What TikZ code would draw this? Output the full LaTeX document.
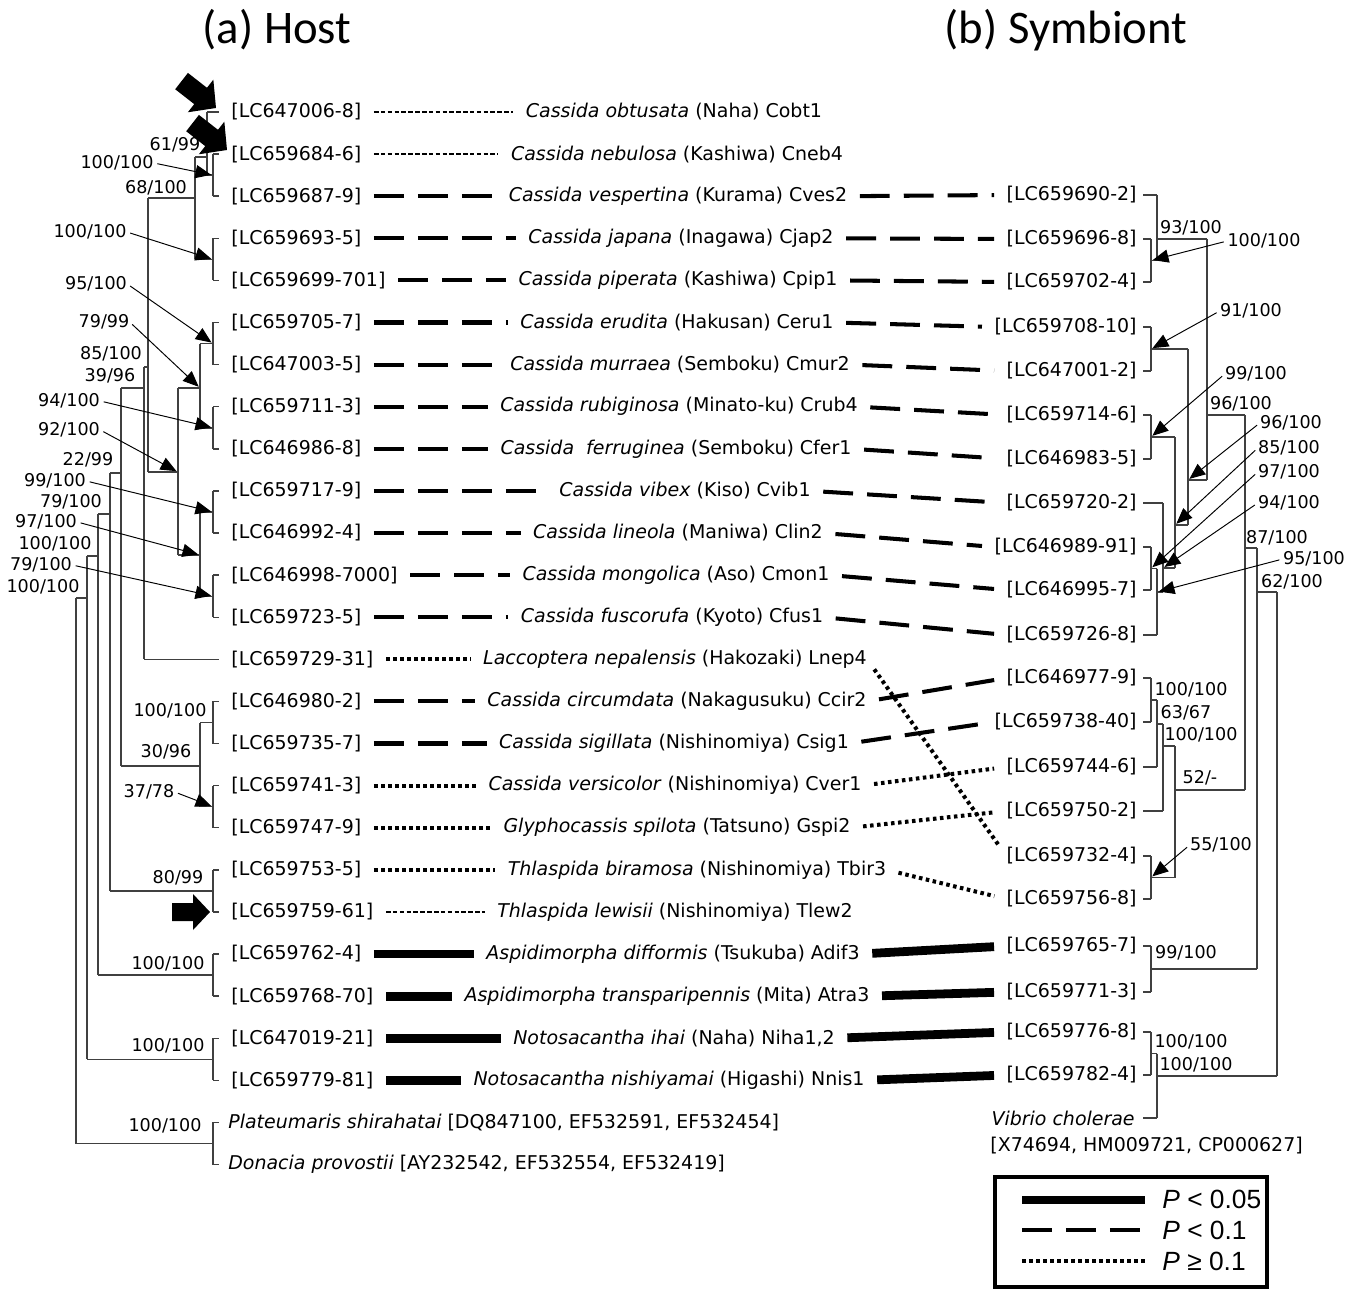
\documentclass[tikz,border=0pt]{standalone}
\usepackage{fontspec}
\setmainfont{DejaVu Sans}
\newfontfamily\titlefont{Carlito}
\newfontfamily\legendfont{Liberation Sans}
\usetikzlibrary{arrows.meta}

\begin{document}
\begin{tikzpicture}[
    x=0.02cm, y=-0.02cm,
    % Text styles
    acc/.style={inner sep=0pt, font=\fontsize{10.8}{13}\selectfont},
    hostacc/.style={acc, anchor=west},
    symacc/.style={acc, anchor=east},
    taxon/.style={acc},
    support/.style={inner sep=0pt, font=\fontsize{10}{12}\selectfont},
    heading/.style={inner sep=0pt, font=\titlefont\fontsize{26.6}{30}\selectfont},
    keytext/.style={inner sep=0pt, anchor=west, font=\legendfont\fontsize{15}{17}\selectfont},
    % Tree lines and pointers
    branch/.style={draw=black!75, line width=0.8pt},
    pointer/.style={-{Triangle[length=9pt,width=7.5pt]}, line width=0.55pt,
        shorten <=2pt, shorten >=1pt},
    % Line kinds for host-symbiont links
    link/.style={shorten <=7pt, shorten >=7pt},
    nodata/.style={line width=0.7pt, dash pattern=on 2.6pt off 1.3pt},
    pfive/.style={line width=5pt},
    pten/.style={line width=2.3pt, dash pattern=on 17pt off 8pt},
    pns/.style={line width=2.3pt, dash pattern=on 2pt off 2pt},
    fatarrow/.pic={\fill (0,0) -- (-17,18) -- (-17,9) -- (-38,9) -- (-38,-9)
        -- (-17,-9) -- (-17,-18) -- cycle;}
]
    \useasboundingbox (0,0) rectangle (1361,1290);

    % Titles
    \node[heading] (hosttitle) at (277,30) {(a) Host};
    \node[heading] (symtitle) at (1066,30) {(b) Symbiont};

    % Host accessions
    \node[hostacc] (h1) at (231,112) {[LC647006-8]};
    \node[hostacc] (h2) at (231,154.1) {[LC659684-6]};
    \node[hostacc] (h3) at (231,196.2) {[LC659687-9]};
    \node[hostacc] (h4) at (231,238.3) {[LC659693-5]};
    \node[hostacc] (h5) at (231,280.4) {[LC659699-701]};
    \node[hostacc] (h6) at (231,322.5) {[LC659705-7]};
    \node[hostacc] (h7) at (231,364.6) {[LC647003-5]};
    \node[hostacc] (h8) at (231,406.7) {[LC659711-3]};
    \node[hostacc] (h9) at (231,448.8) {[LC646986-8]};
    \node[hostacc] (h10) at (231,490.9) {[LC659717-9]};
    \node[hostacc] (h11) at (231,533) {[LC646992-4]};
    \node[hostacc] (h12) at (231,575.1) {[LC646998-7000]};
    \node[hostacc] (h13) at (231,617.2) {[LC659723-5]};
    \node[hostacc] (h14) at (231,659.3) {[LC659729-31]};
    \node[hostacc] (h15) at (231,701.4) {[LC646980-2]};
    \node[hostacc] (h16) at (231,743.5) {[LC659735-7]};
    \node[hostacc] (h17) at (231,785.6) {[LC659741-3]};
    \node[hostacc] (h18) at (231,827.7) {[LC659747-9]};
    \node[hostacc] (h19) at (231,869.8) {[LC659753-5]};
    \node[hostacc] (h20) at (231,911.9) {[LC659759-61]};
    \node[hostacc] (h21) at (231,954) {[LC659762-4]};
    \node[hostacc] (h22) at (231,996.1) {[LC659768-70]};
    \node[hostacc] (h23) at (231,1038.2) {[LC647019-21]};
    \node[hostacc] (h24) at (231,1080.3) {[LC659779-81]};
    \node[hostacc] (h25) at (228,1122.4) {\textit{Plateumaris shirahatai} [DQ847100, EF532591, EF532454]};
    \node[hostacc] (h26) at (228,1164.5) {\textit{Donacia provostii} [AY232542, EF532554, EF532419]};

    % Host species
    \node[taxon] (c1) at (674,112) {\textit{Cassida obtusata} (Naha) Cobt1};
    \node[taxon] (c2) at (677,154.1) {\textit{Cassida nebulosa} (Kashiwa) Cneb4};
    \node[taxon] (c3) at (678,196.2) {\textit{Cassida vespertina} (Kurama) Cves2};
    \node[taxon] (c4) at (681,238.3) {\textit{Cassida japana} (Inagawa) Cjap2};
    \node[taxon] (c5) at (678,280.4) {\textit{Cassida piperata} (Kashiwa) Cpip1};
    \node[taxon] (c6) at (677,322.5) {\textit{Cassida erudita} (Hakusan) Ceru1};
    \node[taxon] (c7) at (680,364.6) {\textit{Cassida murraea} (Semboku) Cmur2};
    \node[taxon] (c8) at (679,406.7) {\textit{Cassida rubiginosa} (Minato-ku) Crub4};
    \node[taxon] (c9) at (676,448.8) {\textit{Cassida\ \ ferruginea} (Semboku) Cfer1};
    \node[taxon] (c10) at (685,490.9) {\textit{Cassida vibex} (Kiso) Cvib1};
    \node[taxon] (c11) at (678,533) {\textit{Cassida lineola} (Maniwa) Clin2};
    \node[taxon] (c12) at (676,575.1) {\textit{Cassida mongolica} (Aso) Cmon1};
    \node[taxon] (c13) at (672,617.2) {\textit{Cassida fuscorufa} (Kyoto) Cfus1};
    \node[taxon] (c14) at (675,659.3) {\textit{Laccoptera nepalensis} (Hakozaki) Lnep4};
    \node[taxon] (c15) at (677,701.4) {\textit{Cassida circumdata} (Nakagusuku) Ccir2};
    \node[taxon] (c16) at (674,743.5) {\textit{Cassida sigillata} (Nishinomiya) Csig1};
    \node[taxon] (c17) at (675,785.6) {\textit{Cassida versicolor} (Nishinomiya) Cver1};
    \node[taxon] (c18) at (677,827.7) {\textit{Glyphocassis spilota} (Tatsuno) Gspi2};
    \node[taxon] (c19) at (697,869.8) {\textit{Thlaspida biramosa} (Nishinomiya) Tbir3};
    \node[taxon] (c20) at (675,911.9) {\textit{Thlaspida lewisii} (Nishinomiya) Tlew2};
    \node[taxon] (c21) at (673,954) {\textit{Aspidimorpha difformis} (Tsukuba) Adif3};
    \node[taxon] (c22) at (667,996.1) {\textit{Aspidimorpha transparipennis} (Mita) Atra3};
    \node[taxon] (c23) at (674,1038.2) {\textit{Notosacantha ihai} (Naha) Niha1,2};
    \node[taxon] (c24) at (669,1080.3) {\textit{Notosacantha nishiyamai} (Higashi) Nnis1};

    % Symbiont accessions
    \node[symacc] (s1) at (1137,195) {[LC659690-2]};
    \node[symacc] (s2) at (1137,239) {[LC659696-8]};
    \node[symacc] (s3) at (1137,282) {[LC659702-4]};
    \node[symacc] (s4) at (1137,327) {[LC659708-10]};
    \node[symacc] (s5) at (1137,371) {[LC647001-2]};
    \node[symacc] (s6) at (1137,415) {[LC659714-6]};
    \node[symacc] (s7) at (1137,459) {[LC646983-5]};
    \node[symacc] (s8) at (1137,503) {[LC659720-2]};
    \node[symacc] (s9) at (1137,547) {[LC646989-91]};
    \node[symacc] (s10) at (1137,590) {[LC646995-7]};
    \node[symacc] (s11) at (1137,635) {[LC659726-8]};
    \node[symacc] (s12) at (1137,678) {[LC646977-9]};
    \node[symacc] (s13) at (1137,722) {[LC659738-40]};
    \node[symacc] (s14) at (1137,767) {[LC659744-6]};
    \node[symacc] (s15) at (1137,811) {[LC659750-2]};
    \node[symacc] (s16) at (1137,856) {[LC659732-4]};
    \node[symacc] (s17) at (1137,899) {[LC659756-8]};
    \node[symacc] (s18) at (1137,946) {[LC659765-7]};
    \node[symacc] (s19) at (1137,992) {[LC659771-3]};
    \node[symacc] (s20) at (1137,1032) {[LC659776-8]};
    \node[symacc] (s21) at (1137,1075) {[LC659782-4]};
    \node[symacc] (vib) at (1135,1118) {\textit{Vibrio cholerae}};
    \node[hostacc] (vibacc) at (990,1146) {[X74694, HM009721, CP000627]};

    % Host tree: name/x/top/bottom/stem/parent x
    \foreach \n/\x/\ya/\yb/\ys/\xp in {
        p23/213/154.1/196.2/175.2/207, p45/213/238.3/280.4/259.4/195,
        p67/213/322.5/364.6/343.6/200, p89/213/406.7/448.8/427.8/200,
        p1011/213/490.9/533/512/200, p1213/213/575.1/617.2/596.2/200,
        p1516/213/701.4/743.5/722.5/200, p1718/213/785.6/827.7/806.7/200,
        p1920/213/869.8/911.9/890.9/110, p2122/213/954/996.1/975.1/98,
        p2324/213/1038.2/1080.3/1059.3/87, p2526/213/1122.4/1164.5/1143.5/76,
        na/207/112/175.2/157/195, nb/195/157/259.4/198/148,
        ng/200/343.6/427.8/388/178, nh/200/512/596.2/555/178,
        nf/178/388/555/472/148, nc/148/198/472/367/144,
        nd/144/367/659.3/388/121, ni/200/722.5/806.7/766/121,
        ne/121/388/766/473/110, nj/110/473/890.9/514/98,
        nk/98/514/975.1/556/87, nl/87/556/1059.3/598/76}
    {
        \draw[branch] (\x,\ya) -- (\x,\yb);
        \draw[branch] (\xp,\ys) -- (\x,\ys);
        \coordinate (\n) at (\x,\ys);
    }
    \draw[branch] (76,598) -- (76,1143.5);
    % host tips
    \foreach \y/\xp in {112/207, 154.1/213, 196.2/213, 238.3/213, 280.4/213,
        322.5/213, 364.6/213, 406.7/213, 448.8/213, 490.9/213, 533/213,
        575.1/213, 617.2/213, 659.3/144, 701.4/213, 743.5/213, 785.6/213,
        827.7/213, 869.8/213, 911.9/213, 954/213, 996.1/213, 1038.2/213,
        1080.3/213, 1122.4/213, 1164.5/213}
        \draw[branch] (\xp,\y) -- (219,\y);

    % Symbiont tree: name/x/top/bottom/stem/parent x
    \foreach \n/\x/\ya/\yb/\ys/\xp in {
        q23/1151/239/282/260.5/1157, r1/1157/195/260.5/239/1207,
        q45/1151/327/371/349/1188, q67/1151/415/459/437/1175,
        q910/1151/547/590/568.5/1157, r6/1157/568.5/635/592/1163,
        r5/1163/503/592/568/1175, r4/1175/437/568/525/1188,
        r3/1188/349/525/480/1207, r2/1207/239/480/415/1245,
        q1213/1151/678/722/700/1157, r10/1157/700/767/724/1163,
        r9/1163/724/811/746/1175, q1617/1151/856/899/877.5/1175,
        r8/1175/746/877.5/790/1245, r7/1245/415/790/548/1257,
        q1819/1151/946/992/969/1257, r11/1257/548/969/592/1277,
        q2021/1151/1032/1075/1053.5/1157, r13/1157/1053.5/1118/1076/1277}
    {
        \draw[branch] (\x,\ya) -- (\x,\yb);
        \draw[branch] (\xp,\ys) -- (\x,\ys);
        \coordinate (\n) at (\x,\ys);
    }
    \draw[branch] (1277,592) -- (1277,1076);
    % symbiont tips
    \foreach \y/\xp in {195/1157, 239/1151, 282/1151, 327/1151, 371/1151,
        415/1151, 459/1151, 503/1163, 547/1151, 590/1151, 635/1157,
        678/1151, 722/1151, 767/1157, 811/1163, 856/1151, 899/1151,
        946/1151, 992/1151, 1032/1151, 1075/1151, 1118/1157}
        \draw[branch] (1143,\y) -- (\xp,\y);

    % Host support values
    \node[support] (ls1) at (175,145) {61/99};
    \node[support] (ls2) at (117,163) {100/100};
    \node[support] (ls3) at (156,188) {68/100};
    \node[support] (ls4) at (90,232) {100/100};
    \node[support] (ls5) at (96,284) {95/100};
    \node[support] (ls6) at (104,322) {79/99};
    \node[support] (ls7) at (111,354) {85/100};
    \node[support] (ls8) at (110,376) {39/96};
    \node[support] (ls9) at (69,401) {94/100};
    \node[support] (ls10) at (69,430) {92/100};
    \node[support] (ls11) at (88,460) {22/99};
    \node[support] (ls12) at (55,481) {99/100};
    \node[support] (ls13) at (71,502) {79/100};
    \node[support] (ls14) at (46,522) {97/100};
    \node[support] (ls15) at (55,544) {100/100};
    \node[support] (ls16) at (41,565) {79/100};
    \node[support] (ls17) at (43,587) {100/100};
    \node[support] (ls18) at (170,711) {100/100};
    \node[support] (ls19) at (166,752) {30/96};
    \node[support] (ls20) at (149,792) {37/78};
    \node[support] (ls21) at (178,878) {80/99};
    \node[support] (ls22) at (168,964) {100/100};
    \node[support] (ls23) at (168,1046) {100/100};
    \node[support] (ls24) at (165,1126) {100/100};
    \draw[pointer] (ls2.east) -- (p23);
    \draw[pointer] (ls4.east) -- (p45);
    \draw[pointer] (ls5.east) -- (p67);
    \draw[pointer] (ls6.east) -- (ng);
    \draw[pointer] (ls9.east) -- (p89);
    \draw[pointer] (ls10.east) -- (nf);
    \draw[pointer] (ls12.east) -- (p1011);
    \draw[pointer] (ls14.east) -- (nh);
    \draw[pointer] (ls16.east) -- (p1213);
    \draw[pointer] (ls20.east) -- (p1718);

    % Symbiont support values
    \node[support] (rs1) at (1191,228) {93/100};
    \node[support] (rs2) at (1264,241) {100/100};
    \node[support] (rs3) at (1251,311) {91/100};
    \node[support] (rs4) at (1256,374) {99/100};
    \node[support] (rs5) at (1241,404) {96/100};
    \node[support] (rs6) at (1291,423) {96/100};
    \node[support] (rs7) at (1289,448) {85/100};
    \node[support] (rs8) at (1289,472) {97/100};
    \node[support] (rs9) at (1289,503) {94/100};
    \node[support] (rs10) at (1277,538) {87/100};
    \node[support] (rs11) at (1314,559) {95/100};
    \node[support] (rs12) at (1292,582) {62/100};
    \node[support] (rs13) at (1191,690) {100/100};
    \node[support] (rs14) at (1186,713) {63/67};
    \node[support] (rs15) at (1201,735) {100/100};
    \node[support] (rs16) at (1200,778) {52/-};
    \node[support] (rs17) at (1221,845) {55/100};
    \node[support] (rs18) at (1186,953) {99/100};
    \node[support] (rs19) at (1191,1042) {100/100};
    \node[support] (rs20) at (1196,1065) {100/100};
    \draw[pointer] (rs2.west) -- (q23);
    \draw[pointer] (rs3.west) -- (q45);
    \draw[pointer] (rs4.west) -- (q67);
    \draw[pointer] (rs6.west) -- (r3);
    \draw[pointer] (rs7.west) -- (r4);
    \draw[pointer] (rs8.west) -- (q910);
    \draw[pointer] (rs9.west) -- (r5);
    \draw[pointer] (rs11.west) -- (r6);
    \draw[pointer] (rs17.west) -- (q1617);

    % Big arrows at the hosts without symbiont data
    \pic[rotate=-38, scale=1.15] at (216,108) {fatarrow};
    \pic[rotate=-38, scale=1.15] at (227,150) {fatarrow};
    \pic at (210,912) {fatarrow};

    % Host accession to host species
    \foreach \i/\kind in {1/nodata, 2/nodata, 3/pten, 4/pten, 5/pten, 6/pten,
        7/pten, 8/pten, 9/pten, 10/pten, 11/pten, 12/pten, 13/pten, 14/pns,
        15/pten, 16/pten, 17/pns, 18/pns, 19/pns, 20/nodata, 21/pfive,
        22/pfive, 23/pfive, 24/pfive}
        \draw[link,\kind] (h\i.east) -- (c\i.west);
    % Host species to symbiont accession
    \foreach \i/\j/\kind in {3/1/pten, 4/2/pten, 5/3/pten, 6/4/pten, 7/5/pten,
        8/6/pten, 9/7/pten, 10/8/pten, 11/9/pten, 12/10/pten, 13/11/pten,
        14/16/pns, 15/12/pten, 16/13/pten, 17/14/pns, 18/15/pns, 19/17/pns,
        21/18/pfive, 22/19/pfive, 23/20/pfive, 24/21/pfive}
        \draw[link,\kind] (c\i.east) -- (s\j.west);

    % Legend
    \draw[line width=2pt] (995,1177) rectangle (1267,1287);
    \draw[pfive] (1022,1200) -- (1145,1200);
    \draw[pten] (1022,1230) -- (1145,1230);
    \draw[pns] (1022,1261) -- (1145,1261);
    \node[keytext] (k1) at (1162,1199) {\textit{P} < 0.05};
    \node[keytext] (k2) at (1162,1230) {\textit{P} < 0.1};
    \node[keytext] (k3) at (1162,1261) {\textit{P} ≥ 0.1};
\end{tikzpicture}
\end{document}
